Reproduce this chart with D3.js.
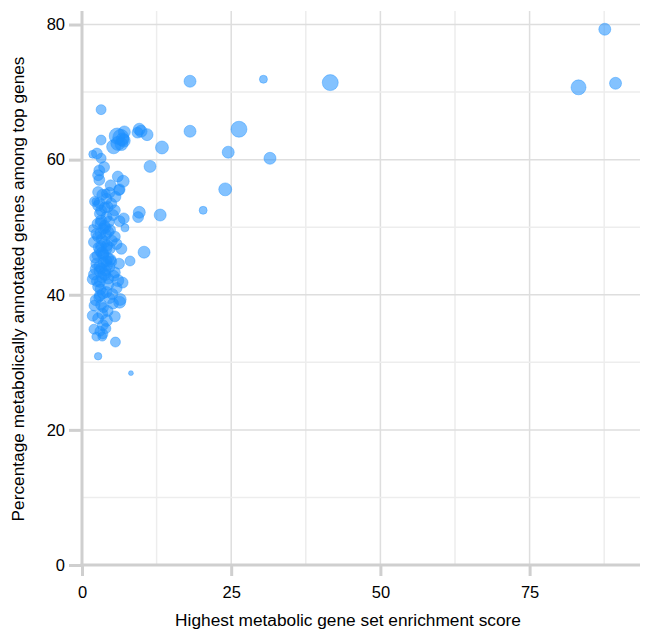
<!DOCTYPE html>
<html>
<head>
<meta charset="utf-8">
<script src="https://cdn.jsdelivr.net/npm/d3@7"></script>
<style>
  html, body { margin: 0; padding: 0; background: #fff; }
  svg { display: block; font-family: "Liberation Sans", Arial, sans-serif; }
</style>
</head>
<body>
<svg id="chart" width="671" height="636"></svg>
<script>
// Highest metabolic gene set enrichment score per sample
const enrichment = [
  87.6, 83.2, 89.4, 41.6, 30.4, 18.1, 18.1, 26.3, 24.5, 31.5, 24.0, 20.3, 13.4, 11.4, 13.1, 10.4, 8.05, 8.2, 2.7, 5.6,
  3.2, 3.2, 2.5, 3.2, 1.8, 6.0, 6.5, 7.0, 9.6, 9.9, 10.9, 9.3, 6.6,
  2.9, 2.7, 2.9, 6.0, 6.9, 6.2, 4.0, 2.3,
  2.7, 2.1, 3.4, 4.6, 6.3, 4.1, 4.9, 2.7, 5.5, 3.2, 9.6, 9.4, 7.0, 6.3, 7.2, 1.8, 3.2, 4.1, 3.5, 3.1, 4.4, 5.5,
  2.0, 3.8, 6.6, 4.1, 3.5, 4.4, 2.4, 3.2, 4.6, 5.5,
  1.8, 4.4, 6.0, 5.8, 2.7, 4.1, 3.0, 6.3, 5.2, 2.1, 3.2, 1.8, 2.7, 4.1, 3.5, 2.0, 3.0, 2.4, 3.4, 6.4,
  3.3, 3.8, 4.5, 3.0, 4.2, 3.6, 2.9, 4.8, 3.9, 2.5, 4.6, 3.4, 2.3, 5.0, 5.2, 3.0, 4.3, 5.6, 4.8, 3.7,
  2.4, 5.8, 6.2, 5.3, 6.8, 2.2, 4.0, 3.1, 2.0, 5.5, 3.6, 4.7, 2.6, 3.9, 5.1, 2.8,
  3.4, 4.1, 2.9, 3.7, 4.4, 3.2, 2.6, 3.9, 4.6, 3.0, 3.5, 4.2, 2.8, 3.3, 4.9, 3.6, 2.5, 4.0, 3.1, 3.8,
  5.9, 6.8, 5.3, 7.1, 2.2, 3.5, 4.3, 2.9
];

// Percentage of metabolically annotated genes among the top genes
const annotatedPct = [
  79.3, 70.7, 71.3, 71.4, 71.9, 71.6, 64.2, 64.5, 61.1, 60.2, 55.6, 52.5, 61.8, 59.0, 51.8, 46.3, 45.0, 28.4, 30.9, 33.0,
  67.4, 62.9, 60.9, 60.2, 60.8, 62.4, 63.3, 62.8, 64.5, 64.2, 63.7, 64.0, 62.3,
  58.4, 57.7, 57.0, 57.5, 56.8, 55.5, 55.0, 53.8,
  55.2, 53.8, 54.8, 55.1, 55.6, 54.2, 53.5, 53.2, 52.5, 52.5, 52.2, 51.5, 51.3, 50.9, 49.9, 49.8, 51.0, 51.5, 49.8, 49.1, 49.3, 48.6,
  47.8, 47.8, 46.8, 46.8, 45.8, 45.4, 44.6, 43.9, 44.1, 43.3,
  42.3, 42.4, 42.1, 41.0, 41.2, 40.4, 39.9, 38.9, 38.7, 38.4, 38.5, 36.9, 36.5, 36.2, 35.5, 34.9, 34.6, 33.8, 33.8, 39.3,
  48.2, 50.2, 50.8, 46.5, 47.3, 44.8, 43.5, 45.2, 42.9, 42.0, 39.5, 37.2, 39.2, 48.0, 51.8, 52.0, 53.0, 54.5, 56.2, 58.9,
  49.0, 47.5, 44.6, 42.8, 41.8, 45.5, 35.0, 40.8, 43.0, 36.8, 46.0, 49.6, 50.5, 43.6, 40.1, 47.0,
  46.2, 45.0, 44.2, 43.1, 41.5, 47.2, 48.6, 49.9, 46.9, 41.9, 40.2, 44.4, 39.6, 42.6, 44.9, 38.1, 45.8, 48.9, 50.6, 52.9,
  63.5, 63.0, 61.9, 64.1, 43.8, 34.2, 37.6, 53.6
];

// Point weight (drawn as circle area)
const weight = [
  36, 56, 36, 64, 16, 36, 36, 64, 36, 36, 42, 16, 42, 36, 36, 36, 25, 6, 14, 25,
  25, 25, 30, 25, 16, 49, 64, 42, 36, 36, 36, 30, 42,
  30, 30, 30, 30, 36, 30, 20, 14,
  30, 25, 30, 30, 30, 30, 30, 30, 30, 30, 36, 30, 30, 30, 16, 16, 30, 30, 30, 30, 30, 30,
  30, 30, 30, 30, 30, 30, 30, 30, 30, 30,
  30, 30, 36, 30, 30, 30, 30, 36, 30, 30, 30, 30, 30, 36, 30, 25, 25, 20, 20, 36,
  30, 30, 30, 30, 30, 30, 30, 30, 30, 30, 30, 30, 30, 30, 30, 30, 30, 30, 30, 30,
  30, 30, 30, 30, 30, 30, 25, 30, 30, 30, 30, 30, 30, 30, 30, 30,
  36, 30, 30, 36, 30, 30, 25, 30, 36, 30, 30, 30, 25, 30, 30, 25, 25, 30, 30, 30,
  64, 42, 49, 36, 25, 25, 30, 30
];

const xTicks = [0, 25, 50, 75];
const yTicks = [0, 20, 40, 60, 80];
const xTitle = "Highest metabolic gene set enrichment score";
const yTitle = "Percentage metabolically annotated genes among top genes";

const svg = d3.select("#chart");
const plot = { left: 82, right: 640, top: 11, bottom: 565 };

const x = d3.scaleLinear().domain([0, 93.5]).range([plot.left, plot.right]);
const y = d3.scaleLinear().domain([0, 82]).range([plot.bottom, plot.top]);
const r = d3.scaleSqrt().domain([0, 64]).range([0, 8]);

// grid: minor lines halfway between labelled ticks
const xGrid = d3.range(12.5, 93.5, 12.5);
const yGrid = d3.range(10, 82, 10);

const grid = svg.append("g");
grid.selectAll("line.gx").data(xGrid).join("line")
  .attr("x1", d => x(d)).attr("x2", d => x(d))
  .attr("y1", plot.top).attr("y2", plot.bottom)
  .attr("stroke", d => d % 25 === 0 ? "#dedede" : "#ededed")
  .attr("stroke-width", 1.5);
grid.selectAll("line.gy").data(yGrid).join("line")
  .attr("y1", d => y(d)).attr("y2", d => y(d))
  .attr("x1", plot.left).attr("x2", plot.right)
  .attr("stroke", d => d % 20 === 0 ? "#dedede" : "#ededed")
  .attr("stroke-width", 1.5);

// axes
const xAxis = d3.axisBottom(x).tickValues(xTicks).tickSize(11).tickPadding(10);
const yAxis = d3.axisLeft(y).tickValues(yTicks).tickSize(13).tickPadding(4);

const gx = svg.append("g").attr("transform", `translate(0,${plot.bottom})`).call(xAxis);
const gy = svg.append("g").attr("transform", `translate(${plot.left},0)`).call(yAxis);

[gx, gy].forEach(g => {
  g.select(".domain").remove();
  g.selectAll(".tick line").attr("stroke", "#cfcfcf").attr("stroke-width", 3);
  g.selectAll(".tick text")
    .attr("fill", "#000")
    .style("font-size", "16.5px")
    .style("font-family", "'Liberation Sans', Arial, sans-serif");
});

svg.append("line")
  .attr("x1", plot.left).attr("x2", plot.left)
  .attr("y1", plot.top).attr("y2", plot.bottom + 1.5)
  .attr("stroke", "#cfcfcf").attr("stroke-width", 3);
svg.append("line")
  .attr("x1", plot.left - 1.5).attr("x2", plot.right)
  .attr("y1", plot.bottom).attr("y2", plot.bottom)
  .attr("stroke", "#cfcfcf").attr("stroke-width", 3);

// points
const points = enrichment.map((v, i) => ({ x: v, y: annotatedPct[i], w: weight[i] }));
svg.append("g").selectAll("circle").data(points).join("circle")
  .attr("cx", d => x(d.x))
  .attr("cy", d => y(d.y))
  .attr("r", d => r(d.w))
  .attr("fill", "#1e90ff")
  .attr("fill-opacity", 0.55)
  .attr("stroke", "#1e90ff")
  .attr("stroke-opacity", 0.4)
  .attr("stroke-width", 1);

// axis titles
svg.append("text")
  .attr("x", 348).attr("y", 626)
  .attr("text-anchor", "middle")
  .style("font-size", "17.3px")
  .text(xTitle);

svg.append("text")
  .attr("transform", `translate(24,${(plot.top + plot.bottom) / 2 + 1}) rotate(-90)`)
  .attr("text-anchor", "middle")
  .style("font-size", "17.3px")
  .text(yTitle);
</script>
</body>
</html>
